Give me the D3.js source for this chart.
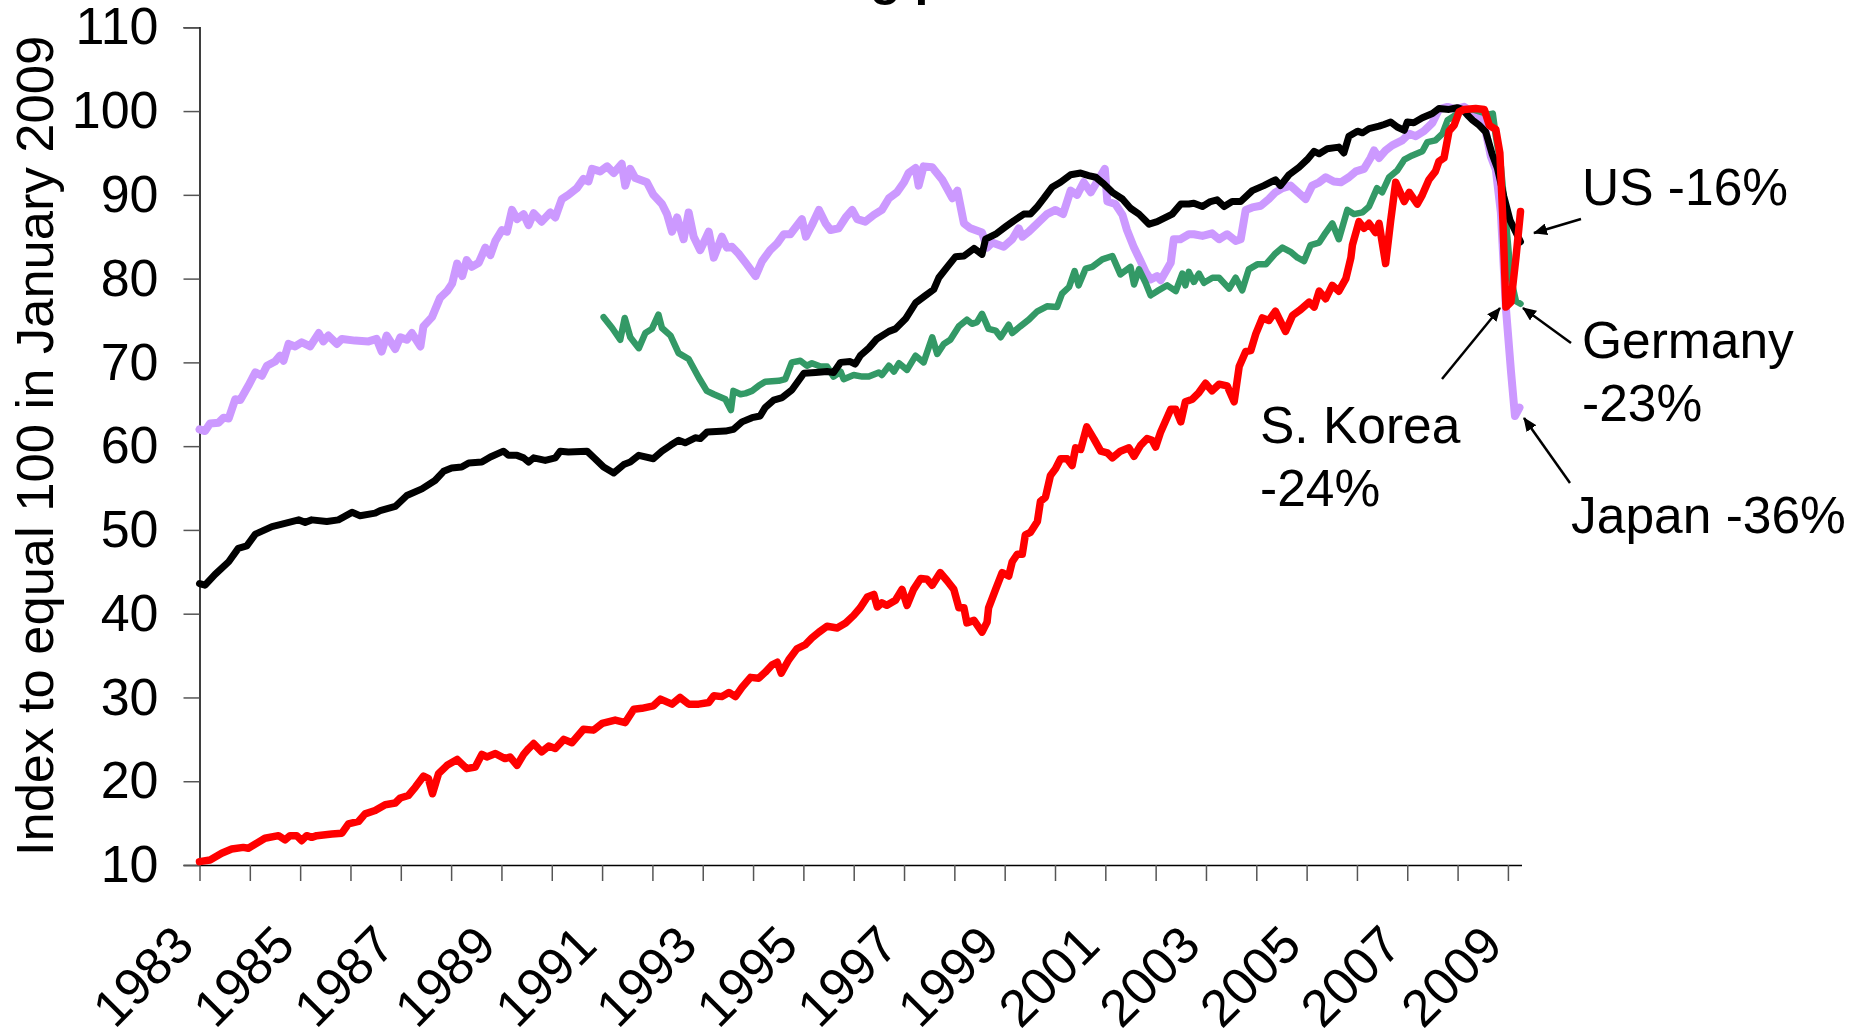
<!DOCTYPE html>
<html>
<head>
<meta charset="utf-8">
<script src="https://cdn.jsdelivr.net/npm/d3@7"></script>
<style>
  body { margin: 0; background: #fff; }
  text { font-family: "Liberation Sans", Arial, sans-serif; fill: #000; }
</style>
</head>
<body>
<svg id="chart" width="1865" height="1031"></svg>
<script>
var title = "Manufacturing production";
var yTitle = "Index to equal 100 in January 2009";
var yearTicks = d3.range(1983, 2010);
var yearLabels = d3.range(1983, 2010, 2);
var yTicks = d3.range(10, 111, 10);

// [decimal year, index]
var japan = [[1983.00,62.0],[1983.11,61.8],[1983.21,62.7],[1983.38,62.8],[1983.48,63.4],[1983.58,63.3],[1983.71,65.6],[1983.81,65.5],[1983.97,67.2],[1984.11,68.8],[1984.24,68.4],[1984.34,69.6],[1984.50,70.1],[1984.60,70.8],[1984.67,70.2],[1984.77,72.2],[1984.90,71.9],[1985.03,72.4],[1985.20,71.9],[1985.37,73.5],[1985.46,72.5],[1985.56,73.2],[1985.73,72.2],[1985.83,72.8],[1986.09,72.6],[1986.36,72.5],[1986.52,72.8],[1986.62,71.3],[1986.72,73.2],[1986.89,71.6],[1986.99,73.0],[1987.12,72.7],[1987.22,73.5],[1987.39,71.9],[1987.45,74.3],[1987.62,75.4],[1987.78,77.7],[1987.92,78.5],[1988.02,79.4],[1988.12,81.8],[1988.22,80.3],[1988.31,82.2],[1988.41,81.4],[1988.55,81.9],[1988.68,83.7],[1988.78,82.8],[1988.88,84.5],[1989.01,85.8],[1989.11,85.6],[1989.21,88.2],[1989.31,87.1],[1989.44,87.7],[1989.54,86.4],[1989.64,87.8],[1989.80,86.8],[1989.97,87.9],[1990.07,87.3],[1990.20,89.5],[1990.33,90.0],[1990.50,90.8],[1990.63,91.9],[1990.73,91.6],[1990.80,93.1],[1990.96,92.8],[1991.10,93.4],[1991.23,92.6],[1991.39,93.7],[1991.46,91.1],[1991.56,93.1],[1991.66,92.0],[1991.89,91.5],[1992.02,90.0],[1992.19,88.9],[1992.29,87.7],[1992.39,85.6],[1992.49,87.3],[1992.62,84.7],[1992.72,87.9],[1992.82,85.0],[1992.95,83.4],[1993.12,85.6],[1993.22,82.5],[1993.38,85.0],[1993.48,83.7],[1993.58,83.8],[1993.71,83.0],[1993.85,81.9],[1994.05,80.3],[1994.18,82.1],[1994.34,83.4],[1994.48,84.2],[1994.61,85.3],[1994.74,85.3],[1994.97,87.1],[1995.05,85.0],[1995.17,86.4],[1995.31,88.2],[1995.44,86.6],[1995.54,85.8],[1995.70,86.0],[1995.84,87.3],[1995.97,88.2],[1996.07,87.1],[1996.23,86.8],[1996.40,87.6],[1996.56,88.2],[1996.70,89.6],[1996.86,90.3],[1997.00,91.5],[1997.09,92.6],[1997.23,93.2],[1997.29,91.1],[1997.39,93.4],[1997.56,93.3],[1997.76,91.8],[1997.96,89.6],[1998.06,90.5],[1998.19,86.6],[1998.32,86.0],[1998.55,85.5],[1998.65,83.7],[1998.75,84.3],[1998.98,83.8],[1999.15,84.7],[1999.28,86.0],[1999.35,85.0],[1999.48,85.6],[1999.65,86.6],[1999.84,87.7],[2000.01,88.2],[2000.16,87.7],[2000.31,90.5],[2000.44,90.0],[2000.57,91.5],[2000.71,90.3],[2000.84,91.6],[2000.99,93.1],[2001.04,89.2],[2001.20,88.9],[2001.34,87.6],[2001.43,85.8],[2001.57,83.7],[2001.70,82.1],[2001.80,80.8],[2001.90,79.9],[2002.03,80.3],[2002.10,79.8],[2002.30,81.9],[2002.36,84.7],[2002.49,84.7],[2002.66,85.3],[2002.76,85.3],[2002.93,85.1],[2003.12,85.4],[2003.26,84.7],[2003.42,85.3],[2003.59,84.5],[2003.69,84.7],[2003.79,88.2],[2003.92,88.5],[2004.09,88.7],[2004.25,89.5],[2004.38,90.3],[2004.52,90.8],[2004.68,91.1],[2004.85,90.2],[2004.98,89.5],[2005.11,91.1],[2005.25,91.5],[2005.38,92.1],[2005.54,91.6],[2005.68,91.5],[2005.84,92.1],[2005.98,92.8],[2006.14,93.1],[2006.27,94.4],[2006.34,95.3],[2006.44,94.4],[2006.57,95.3],[2006.70,95.9],[2006.90,96.5],[2007.04,97.3],[2007.17,97.0],[2007.33,97.6],[2007.50,98.6],[2007.63,100.2],[2007.80,100.5],[2007.96,100.2],[2008.13,100.5],[2008.26,100.0],[2008.43,99.4],[2008.56,97.5],[2008.66,94.6],[2008.76,93.0],[2008.86,87.9],[2008.96,76.5],[2009.06,69.0],[2009.14,63.6],[2009.23,64.6]];

var germany = [[1991.03,75.4],[1991.20,74.1],[1991.36,72.7],[1991.45,75.3],[1991.56,73.0],[1991.73,71.7],[1991.86,73.5],[1991.99,74.0],[1992.12,75.7],[1992.19,74.1],[1992.36,73.2],[1992.52,71.1],[1992.72,70.4],[1992.92,68.2],[1993.08,66.6],[1993.22,66.2],[1993.45,65.6],[1993.56,64.3],[1993.61,66.6],[1993.75,66.2],[1993.85,66.3],[1993.98,66.6],[1994.11,67.2],[1994.24,67.7],[1994.51,67.8],[1994.64,68.0],[1994.77,70.0],[1994.94,70.2],[1995.07,69.6],[1995.17,69.9],[1995.34,69.5],[1995.47,69.5],[1995.60,68.3],[1995.74,68.9],[1995.80,68.0],[1996.00,68.5],[1996.17,68.3],[1996.30,68.3],[1996.50,68.8],[1996.56,68.5],[1996.70,69.6],[1996.80,68.9],[1996.90,69.9],[1997.06,69.1],[1997.23,70.8],[1997.39,70.0],[1997.56,73.0],[1997.66,71.0],[1997.79,72.2],[1997.92,72.7],[1998.09,74.3],[1998.25,75.1],[1998.35,74.6],[1998.45,74.8],[1998.55,75.8],[1998.68,74.0],[1998.82,73.8],[1998.92,73.0],[1999.08,74.5],[1999.15,73.5],[1999.31,74.3],[1999.48,75.1],[1999.65,76.1],[1999.84,76.7],[2000.04,76.6],[2000.14,78.2],[2000.28,79.0],[2000.39,80.9],[2000.47,79.2],[2000.61,81.2],[2000.74,81.4],[2000.94,82.3],[2001.14,82.7],[2001.30,80.5],[2001.50,81.4],[2001.57,79.3],[2001.67,81.1],[2001.80,79.5],[2001.90,78.0],[2002.03,78.5],[2002.23,79.2],[2002.40,78.5],[2002.53,80.6],[2002.59,79.2],[2002.66,80.8],[2002.76,79.6],[2002.86,80.6],[2002.96,79.5],[2003.13,80.1],[2003.26,80.1],[2003.46,78.8],[2003.59,80.1],[2003.72,78.6],[2003.85,81.1],[2004.02,81.7],[2004.19,81.7],[2004.38,83.0],[2004.52,83.7],[2004.68,83.2],[2004.82,82.5],[2004.95,82.1],[2005.08,84.0],[2005.25,84.3],[2005.38,85.5],[2005.51,86.6],[2005.64,84.7],[2005.81,88.2],[2005.94,87.7],[2006.11,87.9],[2006.24,88.6],[2006.40,90.8],[2006.50,90.3],[2006.64,92.1],[2006.80,92.9],[2006.94,94.2],[2007.10,94.7],[2007.30,95.2],[2007.40,96.3],[2007.56,96.5],[2007.70,97.3],[2007.80,98.9],[2007.93,99.4],[2008.10,100.2],[2008.30,100.2],[2008.46,99.9],[2008.63,99.6],[2008.70,99.7],[2008.76,97.0],[2008.86,93.4],[2008.96,87.0],[2009.06,80.0],[2009.16,77.3],[2009.25,77.0]];

var us = [[1983.00,43.6],[1983.11,43.4],[1983.31,44.7],[1983.58,46.2],[1983.77,47.8],[1983.94,48.1],[1984.11,49.5],[1984.44,50.4],[1984.64,50.7],[1984.97,51.2],[1985.10,50.9],[1985.23,51.2],[1985.53,51.0],[1985.76,51.2],[1986.03,52.1],[1986.19,51.7],[1986.49,52.0],[1986.59,52.3],[1986.89,52.8],[1987.12,54.1],[1987.42,54.9],[1987.68,55.9],[1987.85,57.0],[1988.01,57.4],[1988.21,57.5],[1988.35,58.0],[1988.61,58.1],[1988.78,58.7],[1989.04,59.4],[1989.14,58.9],[1989.31,58.9],[1989.44,58.6],[1989.54,58.1],[1989.64,58.6],[1989.87,58.3],[1990.07,58.6],[1990.17,59.4],[1990.33,59.3],[1990.70,59.4],[1990.86,58.5],[1991.03,57.5],[1991.23,56.8],[1991.43,57.8],[1991.56,58.1],[1991.73,58.9],[1992.02,58.5],[1992.19,59.4],[1992.36,60.1],[1992.52,60.7],[1992.65,60.4],[1992.85,61.0],[1992.95,60.9],[1993.09,61.7],[1993.45,61.8],[1993.61,62.0],[1993.78,62.9],[1993.98,63.4],[1994.14,63.6],[1994.24,64.6],[1994.41,65.5],[1994.58,65.8],[1994.77,66.7],[1995.01,68.7],[1995.24,68.8],[1995.47,68.9],[1995.60,68.8],[1995.74,70.0],[1995.93,70.1],[1996.03,69.8],[1996.13,70.8],[1996.30,71.7],[1996.46,72.8],[1996.70,73.7],[1996.83,74.0],[1997.03,75.2],[1997.23,77.1],[1997.43,78.0],[1997.59,78.7],[1997.69,80.1],[1997.86,81.4],[1998.02,82.6],[1998.19,82.7],[1998.39,83.6],[1998.55,82.9],[1998.62,84.7],[1998.82,85.3],[1999.02,86.2],[1999.18,86.9],[1999.38,87.7],[1999.51,87.7],[1999.65,88.6],[1999.78,89.6],[1999.94,90.9],[2000.11,91.5],[2000.31,92.4],[2000.51,92.6],[2000.67,92.3],[2000.81,92.1],[2000.97,91.3],[2001.14,90.3],[2001.34,89.5],[2001.50,88.4],[2001.67,87.7],[2001.87,86.5],[2002.03,86.8],[2002.20,87.3],[2002.33,87.7],[2002.50,88.9],[2002.66,88.9],[2002.76,89.0],[2002.93,88.6],[2003.09,89.2],[2003.22,89.4],[2003.36,88.6],[2003.52,89.2],[2003.69,89.2],[2003.92,90.5],[2004.15,91.1],[2004.38,91.8],[2004.48,91.1],[2004.65,92.4],[2004.85,93.3],[2005.01,94.2],[2005.15,95.2],[2005.25,94.9],[2005.41,95.5],[2005.64,95.7],[2005.74,95.0],[2005.84,97.0],[2006.01,97.6],[2006.11,97.4],[2006.24,97.9],[2006.44,98.2],[2006.54,98.4],[2006.67,98.7],[2006.80,98.1],[2006.94,97.7],[2007.00,98.7],[2007.13,98.6],[2007.30,99.2],[2007.50,99.7],[2007.63,100.3],[2007.83,100.2],[2007.99,100.4],[2008.10,100.2],[2008.20,99.5],[2008.30,98.9],[2008.43,98.3],[2008.56,97.5],[2008.69,94.8],[2008.79,93.2],[2008.92,89.8],[2009.04,87.0],[2009.12,86.0],[2009.25,84.4]];

var korea = [[1983.00,10.4],[1983.21,10.6],[1983.44,11.4],[1983.64,11.9],[1983.87,12.1],[1983.97,12.0],[1984.11,12.5],[1984.30,13.2],[1984.57,13.5],[1984.70,13.0],[1984.80,13.5],[1984.93,13.5],[1985.03,12.9],[1985.13,13.5],[1985.23,13.3],[1985.33,13.5],[1985.63,13.7],[1985.83,13.8],[1985.96,14.9],[1986.16,15.2],[1986.29,16.1],[1986.49,16.5],[1986.69,17.2],[1986.89,17.4],[1986.99,18.0],[1987.15,18.3],[1987.29,19.3],[1987.45,20.6],[1987.55,20.3],[1987.63,18.5],[1987.75,20.9],[1987.92,21.9],[1988.12,22.6],[1988.31,21.5],[1988.48,21.7],[1988.61,23.2],[1988.71,22.9],[1988.88,23.3],[1989.07,22.7],[1989.17,22.9],[1989.31,21.9],[1989.44,23.2],[1989.54,23.9],[1989.64,24.5],[1989.80,23.5],[1989.94,24.2],[1990.07,23.9],[1990.24,25.0],[1990.40,24.6],[1990.63,26.2],[1990.83,26.1],[1991.00,26.9],[1991.26,27.3],[1991.46,27.0],[1991.63,28.6],[1991.79,28.7],[1992.02,29.0],[1992.16,29.8],[1992.39,29.2],[1992.55,30.0],[1992.72,29.2],[1992.92,29.2],[1993.12,29.4],[1993.22,30.2],[1993.38,30.1],[1993.52,30.6],[1993.65,30.1],[1993.78,31.2],[1993.95,32.4],[1994.11,32.3],[1994.24,33.0],[1994.38,33.9],[1994.48,34.2],[1994.56,32.9],[1994.71,34.5],[1994.87,35.8],[1995.04,36.3],[1995.17,37.1],[1995.31,37.8],[1995.47,38.5],[1995.67,38.3],[1995.84,38.9],[1996.00,39.8],[1996.13,40.7],[1996.27,42.0],[1996.40,42.3],[1996.47,40.8],[1996.56,41.3],[1996.66,41.0],[1996.83,41.6],[1996.96,42.9],[1997.06,41.0],[1997.19,42.9],[1997.33,44.2],[1997.46,44.1],[1997.56,43.4],[1997.72,44.9],[1997.86,43.9],[1997.99,42.9],[1998.09,40.7],[1998.19,40.7],[1998.25,38.9],[1998.39,39.2],[1998.55,37.8],[1998.65,39.0],[1998.68,40.7],[1998.82,42.9],[1998.95,44.9],[1999.08,44.5],[1999.15,46.2],[1999.25,47.1],[1999.35,47.1],[1999.41,49.4],[1999.51,49.7],[1999.65,51.0],[1999.71,53.4],[1999.81,53.9],[1999.91,56.5],[2000.01,57.3],[2000.11,58.5],[2000.24,58.5],[2000.34,57.7],[2000.41,59.8],[2000.51,59.6],[2000.63,62.3],[2000.77,60.9],[2000.91,59.4],[2001.04,59.2],[2001.14,58.6],[2001.30,59.4],[2001.47,59.8],[2001.57,58.8],[2001.70,60.1],[2001.83,60.9],[2001.93,60.7],[2002.00,59.9],[2002.10,61.7],[2002.30,64.4],[2002.40,64.4],[2002.50,62.9],[2002.59,65.3],[2002.73,65.6],[2002.86,66.4],[2002.99,67.5],[2003.12,66.6],[2003.26,67.4],[2003.42,67.2],[2003.56,65.3],[2003.66,69.5],[2003.79,71.3],[2003.89,71.4],[2003.99,73.4],[2004.12,75.3],[2004.25,75.0],[2004.38,76.1],[2004.58,73.7],[2004.72,75.6],[2004.88,76.3],[2005.05,77.2],[2005.15,76.6],[2005.25,78.5],[2005.38,77.6],[2005.51,79.2],[2005.64,78.5],[2005.78,80.0],[2005.88,82.5],[2005.91,84.0],[2006.04,86.8],[2006.14,86.0],[2006.24,86.6],[2006.37,85.5],[2006.44,86.6],[2006.57,81.8],[2006.67,86.9],[2006.77,91.5],[2006.94,89.2],[2007.04,90.3],[2007.20,88.9],[2007.30,90.0],[2007.43,91.8],[2007.56,92.8],[2007.63,94.0],[2007.73,94.4],[2007.83,97.6],[2007.93,98.3],[2008.03,99.9],[2008.13,100.2],[2008.36,100.3],[2008.53,100.2],[2008.63,98.3],[2008.76,97.8],[2008.84,95.0],[2008.90,87.0],[2008.96,76.6],[2009.06,77.2],[2009.16,82.5],[2009.25,88.0]];

var series = [
  {name: "Japan", values: japan, color: "#cc99ff", width: 8},
  {name: "Germany", values: germany, color: "#339966", width: 6.5},
  {name: "US", values: us, color: "#000000", width: 7},
  {name: "S. Korea", values: korea, color: "#ff0000", width: 7.5}
];

// label lines and arrow [from x, from y, to x, to y] in pixels
var notes = [
  {lines: ["US -16%"], x: 1582, y: 205, arrow: [1581, 219, 1534, 233]},
  {lines: ["Germany", "-23%"], x: 1582, y: 358, arrow: [1571, 343, 1523, 308]},
  {lines: ["S. Korea", "-24%"], x: 1260, y: 443, arrow: [1442, 379, 1500, 308]},
  {lines: ["Japan -36%"], x: 1571, y: 533, arrow: [1570, 483, 1524, 418]}
];

var svg = d3.select("#chart");

var x = d3.scaleLinear().domain([1983, 2009.27]).range([199.5, 1521.5]);
var y = d3.scaleLinear().domain([10, 110]).range([865, 27.3]);

svg.append("defs").append("marker")
  .attr("id", "head")
  .attr("markerUnits", "userSpaceOnUse")
  .attr("viewBox", "0 0 14 12")
  .attr("refX", 13).attr("refY", 6)
  .attr("markerWidth", 14).attr("markerHeight", 12)
  .attr("orient", "auto")
  .append("path")
  .attr("d", "M0,0L14,6L0,12Z")
  .attr("fill", "#000");

svg.append("text")
  .attr("x", 866)
  .attr("y", -5)
  .attr("text-anchor", "middle")
  .style("font-size", "50px")
  .style("font-weight", "bold")
  .text(title);

var yAxis = svg.append("g")
  .attr("transform", "translate(199.5,0)")
  .call(d3.axisLeft(y).tickValues(yTicks).tickSize(16).tickPadding(25).tickFormat(d3.format("d")));
yAxis.select(".domain").attr("stroke", "#000").attr("stroke-width", 1.5);
yAxis.selectAll(".tick line").attr("stroke", "#555").attr("stroke-width", 1.5);
yAxis.selectAll(".tick text")
  .style("font-size", "52px")
  .style("font-family", "Liberation Sans, Arial, sans-serif")
  .attr("fill", "#000");

var xAxis = svg.append("g")
  .attr("transform", "translate(0,865)")
  .call(d3.axisBottom(x).tickValues(yearTicks).tickSize(16).tickSizeOuter(0).tickFormat(""));
xAxis.select(".domain").attr("stroke", "#000").attr("stroke-width", 1.5);
xAxis.selectAll(".tick line").attr("stroke", "#555").attr("stroke-width", 1.5);

svg.append("g").selectAll("text")
  .data(yearLabels)
  .enter().append("text")
  .attr("transform", function(d){ return "translate(" + (x(d) - 3) + ",948) rotate(-45)"; })
  .attr("text-anchor", "end")
  .style("font-size", "52px")
  .text(function(d){ return d; });

svg.append("text")
  .attr("transform", "translate(53,446) rotate(-90)")
  .attr("text-anchor", "middle")
  .style("font-size", "52.5px")
  .text(yTitle);

var line = d3.line()
  .x(function(d){ return x(d[0]); })
  .y(function(d){ return y(d[1]); });

svg.append("g").selectAll("path")
  .data(series)
  .enter().append("path")
  .attr("d", function(d){ return line(d.values); })
  .attr("fill", "none")
  .attr("stroke", function(d){ return d.color; })
  .attr("stroke-width", function(d){ return d.width; })
  .attr("stroke-linejoin", "round")
  .attr("stroke-linecap", "round");

var note = svg.append("g").selectAll("g")
  .data(notes)
  .enter().append("g");

note.append("line")
  .attr("x1", function(d){ return d.arrow[0]; })
  .attr("y1", function(d){ return d.arrow[1]; })
  .attr("x2", function(d){ return d.arrow[2]; })
  .attr("y2", function(d){ return d.arrow[3]; })
  .attr("stroke", "#000")
  .attr("stroke-width", 2.5)
  .attr("marker-end", "url(#head)");

note.selectAll("text")
  .data(function(d){ return d.lines.map(function(t, i){ return {t: t, x: d.x, y: d.y + i * 63}; }); })
  .enter().append("text")
  .attr("x", function(d){ return d.x; })
  .attr("y", function(d){ return d.y; })
  .style("font-size", "51.5px")
  .text(function(d){ return d.t; });
</script>
</body>
</html>
